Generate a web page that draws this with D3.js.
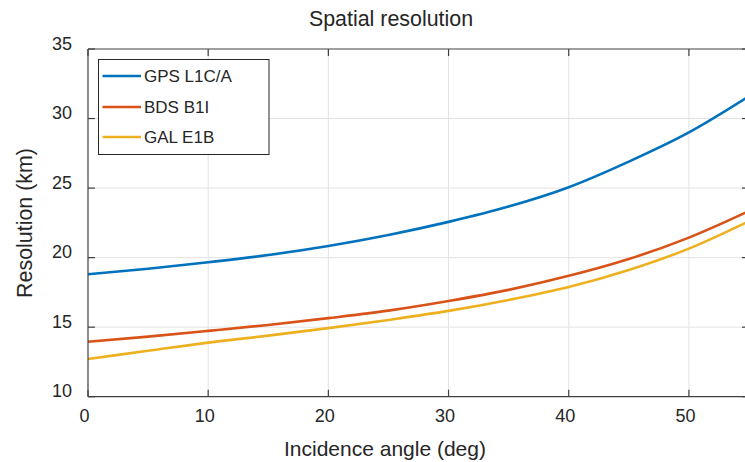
<!DOCTYPE html>
<html><head><meta charset="utf-8">
<script src="https://cdn.jsdelivr.net/npm/d3@7"></script>
<style>body{margin:0;background:#fff;overflow:hidden}svg{display:block}text{font-family:"Liberation Sans",Arial,Helvetica,sans-serif;fill:#262626}</style>
</head><body>
<script>
const angles = [0,5,10,15,20,25,30,35,40,45,50,55];
const gps = [18.8,19.2,19.67,20.19,20.84,21.63,22.57,23.67,25.06,26.9,29.0,31.6];
const bds = [13.95,14.32,14.73,15.16,15.65,16.19,16.88,17.68,18.69,19.9,21.44,23.35];
const gal = [12.71,13.3,13.89,14.39,14.93,15.52,16.17,16.96,17.89,19.11,20.65,22.62];
const seriesNames = ["GPS L1C/A","BDS B1I","GAL E1B"];
const seriesColors = ["#0072BD","#D95319","#EDB120"];
const xTicks = [0,10,20,30,40,50];
const yTicks = [10,15,20,25,30,35];

const W=745,H=462;
const L=88,T=49,B=396.7,R=749;
const svg=d3.select("body").append("svg").attr("width",W).attr("height",H);
const x=d3.scaleLinear().domain([0,55]).range([L,R]);
const y=d3.scaleLinear().domain([10,35]).range([B,T]);

// grid
const g=svg.append("g");
g.selectAll(".gx").data(xTicks.slice(1)).join("line")
 .attr("x1",d=>x(d)).attr("x2",d=>x(d)).attr("y1",T).attr("y2",B)
 .attr("stroke","#e3e3e3").attr("stroke-width",1);
g.selectAll(".gy").data(yTicks.slice(1,-1)).join("line")
 .attr("x1",L).attr("x2",R).attr("y1",d=>y(d)).attr("y2",d=>y(d))
 .attr("stroke","#e3e3e3").attr("stroke-width",1);

// lines
const data=[gps,bds,gal];
const line=d3.line().x((d,i)=>x(angles[i])).y(d=>y(d)).curve(d3.curveMonotoneX);
svg.append("g").selectAll("path").data(data).join("path")
 .attr("d",d=>line(d)).attr("fill","none")
 .attr("stroke",(d,i)=>seriesColors[i]).attr("stroke-width",2.6);

// axes box
const ac="#404040";
const ax=svg.append("g").attr("stroke",ac).attr("stroke-width",1.2);
ax.append("line").attr("x1",L).attr("x2",L).attr("y1",T).attr("y2",B);
ax.append("line").attr("x1",L).attr("x2",R).attr("y1",B).attr("y2",B);
ax.append("line").attr("x1",L).attr("x2",R).attr("y1",T).attr("y2",T);
ax.append("line").attr("x1",R).attr("x2",R).attr("y1",T).attr("y2",B);
// ticks
xTicks.forEach(t=>{
  ax.append("line").attr("x1",x(t)).attr("x2",x(t)).attr("y1",B).attr("y2",B-7);
  ax.append("line").attr("x1",x(t)).attr("x2",x(t)).attr("y1",T).attr("y2",T+7);
});
yTicks.forEach(t=>{
  ax.append("line").attr("x1",L).attr("x2",L+7).attr("y1",y(t)).attr("y2",y(t));
  ax.append("line").attr("x1",R).attr("x2",R-7).attr("y1",y(t)).attr("y2",y(t));
});

// tick labels
svg.append("g").selectAll("text").data(xTicks).join("text")
 .attr("x",d=>x(d)-3.5).attr("y",B+25).attr("text-anchor","middle")
 .attr("font-size",18).text(d=>d);
svg.append("g").selectAll("text").data(yTicks).join("text")
 .attr("x",L-16).attr("y",d=>y(d)+0.5).attr("text-anchor","end")
 .attr("font-size",18).text(d=>d);

// titles
svg.append("text").attr("x",391).attr("y",26).attr("text-anchor","middle")
 .attr("font-size",21.4).text("Spatial resolution");
svg.append("text").attr("x",385).attr("y",456).attr("text-anchor","middle")
 .attr("font-size",21).text("Incidence angle (deg)");
svg.append("text").attr("transform","translate(32,223) rotate(-90)").attr("text-anchor","middle")
 .attr("font-size",21.4).text("Resolution (km)");

// legend
const lg=svg.append("g");
lg.append("rect").attr("x",98.5).attr("y",59.5).attr("width",170.5).attr("height",95)
 .attr("fill","#fff").attr("stroke","#262626").attr("stroke-width",1);
const rows=[76,107,137];
seriesNames.forEach((n,i)=>{
  lg.append("line").attr("x1",102.5).attr("x2",141).attr("y1",rows[i]).attr("y2",rows[i])
    .attr("stroke",seriesColors[i]).attr("stroke-width",2.6);
  lg.append("text").attr("x",144).attr("y",rows[i]+6).attr("font-size",17).text(n);
});
</script>
</body></html>
